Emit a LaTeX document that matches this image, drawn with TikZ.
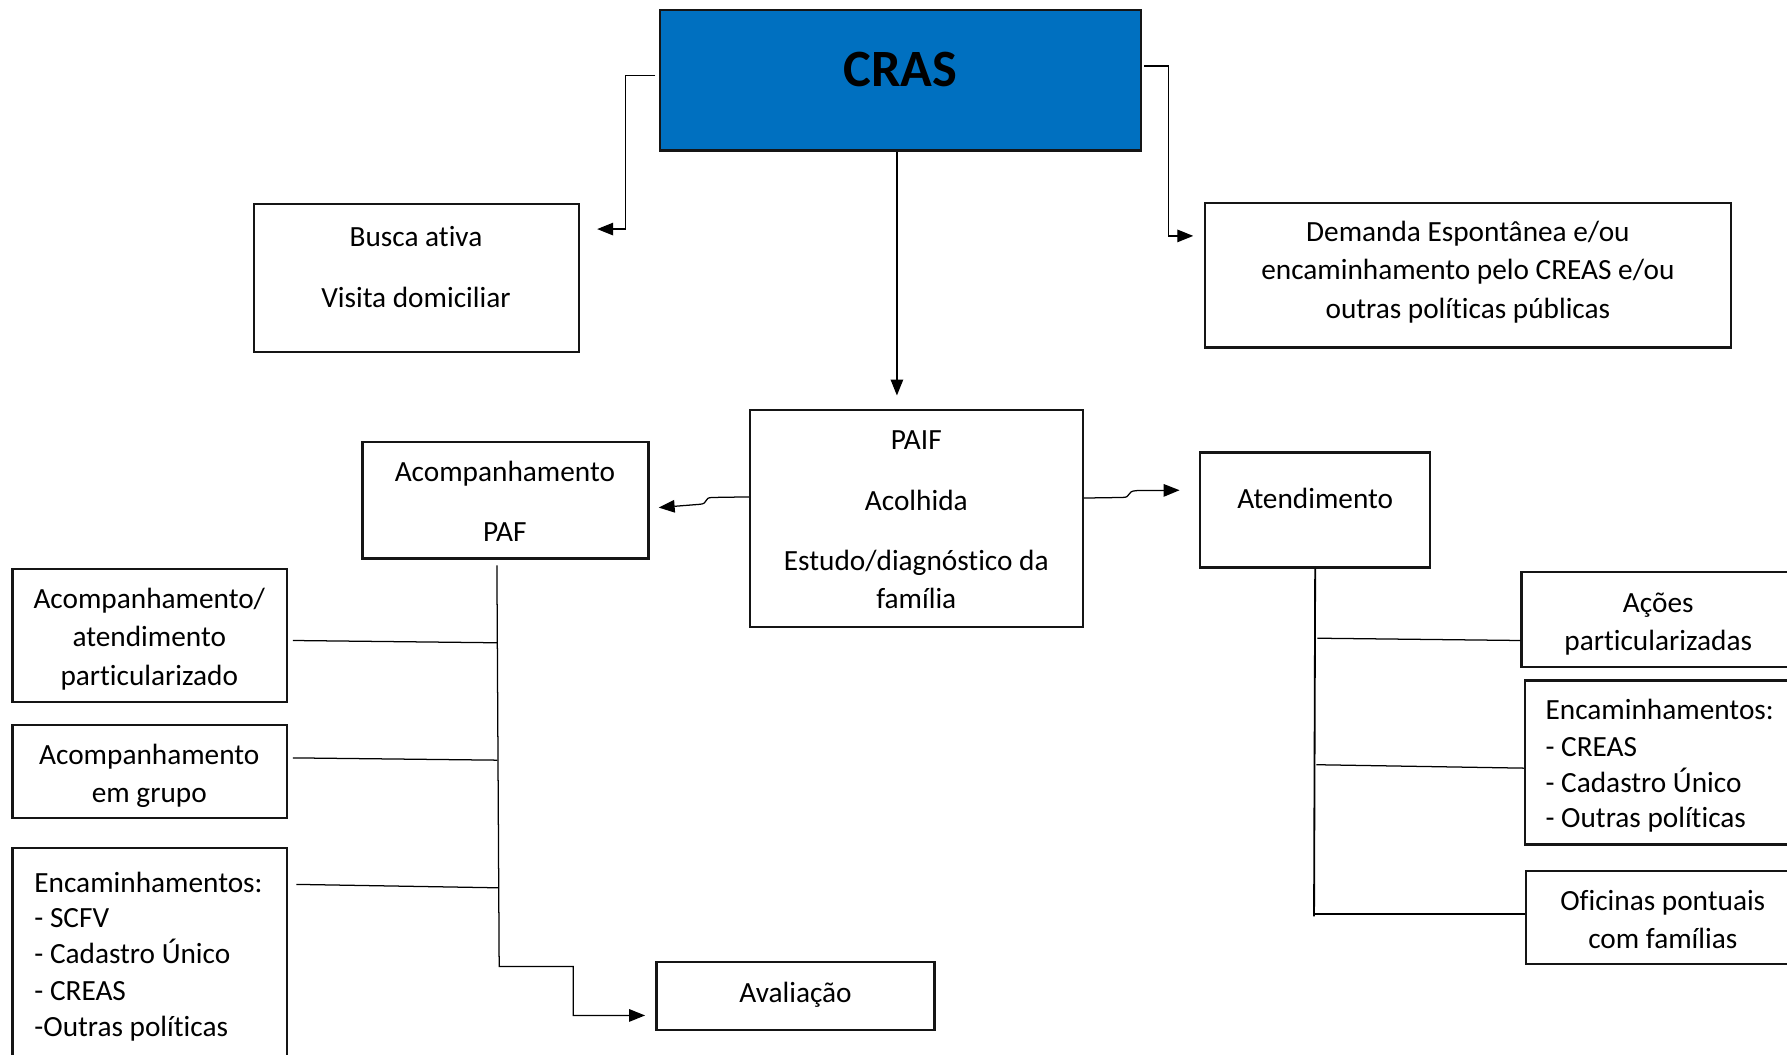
\documentclass[tikz,border=0pt]{standalone}
\usepackage{fontspec}
\setmainfont{Carlito}[Ligatures=NoCommon]
\usetikzlibrary{arrows.meta}
\definecolor{crasblue}{HTML}{0070C0}
\definecolor{edgecol}{HTML}{151515}
\begin{document}
\begin{tikzpicture}[x=1pt,y=-1pt,
  box/.style={draw=edgecol,line width=2pt,inner sep=0pt},
  conn/.style={draw=black,line width=1.1pt},
  arr/.style={conn,-{Triangle[length=14pt,width=11pt]}},
  txt/.style={inner sep=0pt,font=\fontsize{25.7}{34}\selectfont,anchor=base},
  ltxt/.style={txt,anchor=base west}]
\useasboundingbox (0,0) rectangle (1568,925);
\clip (0,0) rectangle (1568,925);
% boxes
\node[box,fill=crasblue,minimum width=422pt,minimum height=123pt] (cras) at (790,70.5) {};
\node[box,minimum width=285pt,minimum height=130pt] (busca) at (365.5,244) {};
\node[box,minimum width=462pt,minimum height=127pt] (dem) at (1288,241.5) {};
\node[box,minimum width=292pt,minimum height=190pt] (paif) at (804,455) {};
\node[box,minimum width=251pt,minimum height=102pt] (paf) at (443.5,439) {};
\node[box,minimum width=202pt,minimum height=101pt] (aten) at (1154,447.5) {};
\node[box,minimum width=241pt,minimum height=117pt] (bA) at (131.5,557.5) {};
\node[box,minimum width=241pt,minimum height=82pt] (bB) at (131.5,677) {};
\node[box,minimum width=241pt,minimum height=216pt] (bC) at (131.5,852) {};
\node[box,minimum width=244pt,minimum height=60pt] (aval) at (698,874) {};
\node[box,minimum width=240pt,minimum height=83pt] (acoes) at (1455,543.5) {};
\node[box,minimum width=240pt,minimum height=144pt] (encR) at (1458,669) {};
\node[box,minimum width=240pt,minimum height=82pt] (ofic) at (1459,805) {};
% texts
\node[txt,font=\fontsize{46}{50}\selectfont\bfseries] (tcras) at (790,75.5) {CRAS};
\node[txt] (tb1) at (365,216.5) {Busca ativa};
\node[txt] (tb2) at (365,269.5) {Visita domiciliar};
\node[txt] (td1) at (1288,211.5) {Demanda Espontânea e/ou};
\node[txt] (td2) at (1288,245.5) {encaminhamento pelo CREAS e/ou};
\node[txt] (td3) at (1288,279.5) {outras políticas públicas};
\node[txt] (tp1) at (804,394.5) {PAIF};
\node[txt] (tp2) at (804,447.5) {Acolhida};
\node[txt] (tp3) at (804,500.5) {Estudo/diagnóstico da};
\node[txt] (tp4) at (804,533.5) {família};
\node[txt] (tf1) at (443,422.5) {Acompanhamento};
\node[txt] (tf2) at (443,475.5) {PAF};
\node[txt] (tat) at (1154,446.5) {Atendimento};
\node[txt] (ta1) at (131,533.5) {Acompanhamento/};
\node[txt] (ta2) at (131,567.5) {atendimento};
\node[txt] (ta3) at (131,601.5) {particularizado};
\node[txt] (tg1) at (131,670.5) {Acompanhamento};
\node[txt] (tg2) at (131,704.5) {em grupo};
\node[ltxt] (tc1) at (30,783.5) {Encaminhamentos:};
\node[ltxt] (tc2) at (30,813.5) {- SCFV};
\node[ltxt] (tc3) at (30,845.5) {- Cadastro Único};
\node[ltxt] (tc4) at (30,877.5) {- CREAS};
\node[ltxt] (tc5) at (30,909.5) {-Outras políticas};
\node[txt] (tav) at (698,879.5) {Avaliação};
\node[txt] (tr1) at (1455,537.5) {Ações};
\node[txt] (tr2) at (1455,570.5) {particularizadas};
\node[ltxt] (te1) at (1356,631.5) {Encaminhamentos:};
\node[ltxt] (te2) at (1356,663.5) {- CREAS};
\node[ltxt] (te3) at (1356,695.5) {- Cadastro Único};
\node[ltxt] (te4) at (1356,726.5) {- Outras políticas};
\node[txt] (to1) at (1459,798.5) {Oficinas pontuais};
\node[txt] (to2) at (1459,832.5) {com famílias};
% connectors from CRAS
\draw[arr,shorten >=15pt] ([xshift=-3pt,yshift=4.5pt]cras.west) -| (549,201) -- ([yshift=43pt]busca.east);
\draw[arr,shorten >=9pt] ([xshift=2pt,yshift=12.5pt]cras.east) -| (1025,207) -- ([yshift=34.5pt]dem.west);
\draw[arr,shorten >=12pt] ([xshift=-3pt]cras.south) -- ([xshift=-3pt]cras.south |- paif.north);
% from PAIF
\draw[arr,shorten >=8pt] ([yshift=19pt]paif.west) -- (625,436.5) .. controls (617,436.5) and (622,442) .. (614,442.5) -- ([yshift=-7pt]paf.east);
\draw[arr,shorten >=17pt] ([yshift=18pt]paif.east) -- (985,436.5) .. controls (993,436.5) and (988,431) .. (997,430.5) -- ([yshift=17.5pt]aten.west);
% PAF tree
\coordinate (jA) at (436,564);
\coordinate (jB) at (436.5,667);
\coordinate (jC) at (437,779);
\draw[arr,shorten >=9pt] ([xshift=-7.5pt,yshift=-5pt]paf.south) -- (438,848) -- (503,848) -- (503,891) -- ([yshift=-17pt]aval.west);
\draw[conn] ([xshift=4pt,yshift=-4.5pt]bA.east) -- (jA);
\draw[conn] ([xshift=4pt,yshift=12pt]bB.east) -- (jB);
\draw[conn] ([xshift=7pt,yshift=-33pt]bC.north east) -- (jC);
% Atendimento tree
\coordinate (kA) at (1156,560);
\coordinate (kB) at (1155,671);
\coordinate (kC) at (1153,802);
\draw[conn,line width=1.6pt] (aten.south) -- (1153,804);
\draw[conn] (kA) -- ([yshift=-18.5pt]acoes.west);
\draw[conn] (kB) -- ([yshift=-5pt]encR.west);
\draw[conn,line width=2pt] (kC) -- ([yshift=3pt]ofic.west);
\end{tikzpicture}
\end{document}
